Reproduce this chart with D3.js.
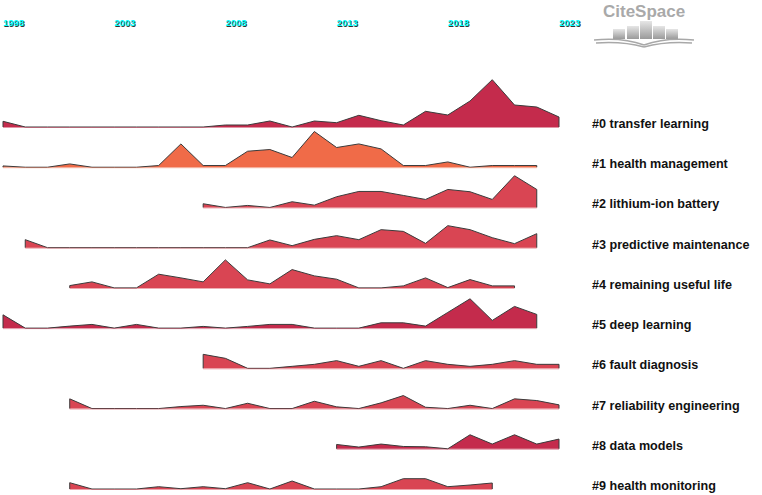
<!DOCTYPE html>
<html><head><meta charset="utf-8">
<script src="https://cdn.jsdelivr.net/npm/d3@7"></script>
<style>html,body{margin:0;padding:0;background:#fff;}svg{display:block;}</style>
</head><body>
<script>
// ---- data ----
const yearTicks = [1998, 2003, 2008, 2013, 2018, 2023];
const clusterLabels = ["#0 transfer learning", "#1 health management", "#2 lithium-ion battery",
  "#3 predictive maintenance", "#4 remaining useful life", "#5 deep learning", "#6 fault diagnosis",
  "#7 reliability engineering", "#8 data models", "#9 health monitoring"];
const clusterStart = [1998, 1998, 2007, 1999, 2001, 1998, 2007, 2001, 2013, 2001];
const c0 = [5.7,0,0,0,0,0,0,0,0,0,2,2,6,0,6,4.3,11.7,6.3,2,15.7,12,26,47.3,22,20,10];
const c1 = [1.3,0,0,3.3,0,0,0,1.7,23.3,1.7,1.7,16,17.7,9.7,35.7,19.7,23.3,18.3,1.7,1.7,5.3,0,1.7,1.7,1.7];
const c2 = [3.7,0,2,0,5.7,2.3,10.7,16,16,12,8,18,15.7,8,31.7,18];
const c3 = [8,0,0,0,0,0,0,0,0,0,0,7.7,2,8.3,12,8,18,16.3,4.3,22,18,10,4,14];
const c4 = [2.3,6,0,0,13.7,10,6,28,8,4,18.3,12,8.7,0,0,2,10,0.3,8.3,2,2];
const c5 = [13.3,0,0,2,3.7,0,3.7,0,0,1.7,0,1.7,3.7,3.7,0,0,0,5.3,5.3,2,15.7,29.3,7.7,21.7,13.7];
const c6 = [14,10,0,0,2,4,7.7,2,7.7,0,7.7,4,2,4,7.7,4,4];
const c7 = [9.7,0,0,0,0,2,3.3,0,5.3,0,0,7.3,1.7,0,5.7,13,1.3,0,3.3,0,9.7,8,3.7];
const c8 = [4.3,1.7,4.7,2.3,2,0,14,4.7,14,4.7,9.7];
const c9 = [6.3,0,0,0,2.3,0.3,2.3,0.3,6.3,0,8,0,0,0,2.3,10.3,10.3,2.3,4,6];
const clusterValues = [c0, c1, c2, c3, c4, c5, c6, c7, c8, c9];

// ---- styles ----
const palette = ["#C42B4C", "#F06B48", "#D94553", "#D94553", "#D94553", "#C42B4C", "#D94553", "#D94553", "#C42B4C", "#D94553"];

const W = 762, H = 495;
const svg = d3.select("body").append("svg").attr("width", W).attr("height", H);
const defs = svg.append("defs");

const x = d3.scaleLinear().domain([1998, 2023]).range([3, 559]);
const rowBase = d3.scaleLinear().domain([0, 9]).range([127, 489]);
const h = d3.scaleLinear().domain([0, 48]).range([0, 48]);

// year labels
const yearG = svg.append("g").attr("font-family", "Liberation Sans, Arial, sans-serif")
  .attr("font-weight", "bold").attr("font-size", "9.5px");
yearTicks.forEach(yr => {
  yearG.append("text").attr("x", x(yr) + 0.8).attr("y", 26.8).attr("fill", "#333").text(yr);
  yearG.append("text").attr("x", x(yr)).attr("y", 26).attr("fill", "#00FFFF").text(yr);
});

// clusters
clusterValues.forEach((vals, i) => {
  const base = rowBase(i);
  const pts = vals.map((v, j) => [x(clusterStart[i] + j), base - h(v)]);
  const area = d3.area().x(d => d[0]).y0(base).y1(d => d[1]);
  svg.append("path").attr("d", area(pts)).attr("fill", palette[i]);
  const outline = [[pts[0][0], base], ...pts, [pts[pts.length - 1][0], base]];
  svg.append("path").attr("d", d3.line()(outline)).attr("fill", "none")
    .attr("stroke", "#3b3b3b").attr("stroke-width", 1);
  svg.append("line").attr("x1", pts[0][0]).attr("x2", pts[pts.length - 1][0])
    .attr("y1", base + 0.5).attr("y2", base + 0.5).attr("stroke", palette[i]).attr("stroke-opacity", 0.5);
  svg.append("text").attr("x", 592).attr("y", base + 1)
    .attr("font-family", "Liberation Sans, Arial, sans-serif").attr("font-weight", "bold")
    .attr("font-size", "12.6px").attr("fill", "#111").text(clusterLabels[i]);
});

// CiteSpace logo
const grad = defs.append("linearGradient").attr("id", "bk").attr("x1", 0).attr("y1", 0).attr("x2", 0).attr("y2", 1);
grad.append("stop").attr("offset", "0%").attr("stop-color", "#e6e6e6");
grad.append("stop").attr("offset", "100%").attr("stop-color", "#9a9a9a");
const logo = svg.append("g");
logo.append("text").attr("x", 603).attr("y", 17).attr("font-family", "Liberation Sans, Arial, sans-serif")
  .attr("font-weight", "bold").attr("font-size", "17px").attr("fill", "#a9a9a9").text("CiteSpace");
const bars = [[613, 29], [627, 26], [640, 21], [653, 26], [666, 29]];
bars.forEach(b => {
  logo.append("rect").attr("x", b[0]).attr("y", b[1]).attr("width", 12).attr("height", 39 - b[1]).attr("fill", "url(#bk)");
});
[["M594,40 Q622,37 644,45", "M644,45 Q666,37 694,40"],
 ["M596,43 Q622,41 644,47", "M644,47 Q666,41 692,43"]].forEach(p => {
  p.forEach(d => logo.append("path").attr("d", d).attr("fill", "none").attr("stroke", "#a8a8a8").attr("stroke-width", 1.5));
});
</script>
</body></html>
